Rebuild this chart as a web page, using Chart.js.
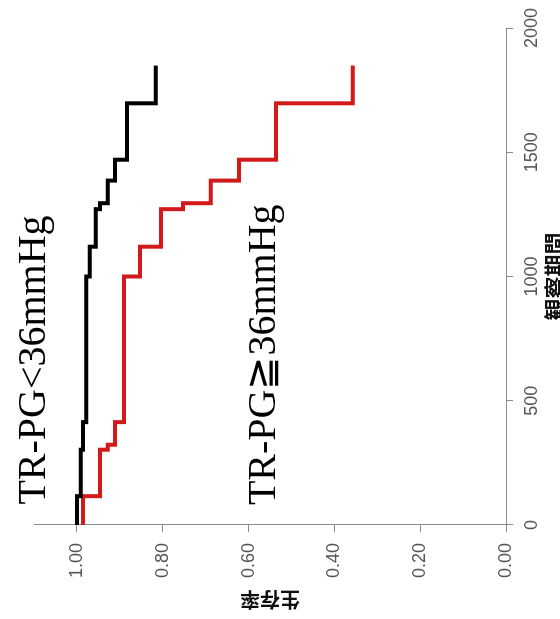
<!DOCTYPE html>
<html>
<head>
<meta charset="utf-8">
<script src="https://cdn.jsdelivr.net/npm/chart.js@4"></script>
<style>
    html, body { margin: 0; padding: 0; background: #fff; overflow: hidden; }
    body { width: 560px; height: 619px; position: relative; }
    /* chart is drawn upright, then turned a quarter turn counter-clockwise like the scan */
    #wrap {
        position: absolute; left: 0; top: 0;
        width: 619px; height: 560px;
        transform-origin: 0 0;
        transform: translate(0, 619px) rotate(-90deg);
    }
</style>
</head>
<body>
<div id="wrap"><canvas id="kmChart" width="619" height="560"></canvas></div>
<script>
// Kaplan-Meier steps (time in days, survival after each drop)
const lowTimes = [0, 116, 303, 414, 1000, 1120, 1271, 1295, 1386, 1470, 1697, 1849];
const lowSurv  = [1.00, 0.991, 0.986, 0.978, 0.970, 0.956, 0.946, 0.928, 0.911, 0.883, 0.816, 0.816];

const highTimes = [0, 116, 303, 323, 414, 1000, 1120, 1271, 1295, 1386, 1470, 1697, 1849];
const highSurv  = [0.986, 0.946, 0.928, 0.911, 0.890, 0.853, 0.804, 0.753, 0.688, 0.622, 0.536, 0.357, 0.357];

// axis ticks
const timeTicks = [0, 500, 1000, 1500, 2000];
const survTicks = [0, 0.2, 0.4, 0.6, 0.8, 1.0];

// group labels placed in data space (start time, baseline survival)
const groupNames = ['TR-PG<36mmHg', 'TR-PG\u226736mmHg'];
const groupLabelTime = [82, 80];
const groupLabelSurv = [1.075, 0.538];

function toPoints(times, surv) {
    return times.map((t, i) => ({ x: t, y: surv[i] }));
}

// Draw the two group names next to the curves
const groupLabels = {
    id: 'groupLabels',
    afterDatasetsDraw(chart) {
        const ctx = chart.ctx;
        const xs = chart.scales.x;
        const ys = chart.scales.y;
        ctx.save();
        ctx.fillStyle = '#000';
        ctx.font = '40px "Liberation Serif", "DejaVu Serif", serif';
        ctx.textAlign = 'left';
        ctx.textBaseline = 'alphabetic';
        groupNames.forEach((name, i) => {
            ctx.fillText(name, xs.getPixelForValue(groupLabelTime[i]), ys.getPixelForValue(groupLabelSurv[i]));
        });
        ctx.restore();
    }
};

const axisGray = '#8a8a8a';
const tickFont = { family: '"Liberation Sans", Arial, sans-serif', size: 18 };

new Chart(document.getElementById('kmChart'), {
    type: 'line',
    data: {
        datasets: [{
            label: 'TR-PG<36mmHg',
            data: toPoints(lowTimes, lowSurv),
            borderColor: '#000000',
            borderWidth: 4,
            stepped: true,
            pointRadius: 0,
            fill: false
        }, {
            label: 'TR-PG\u226736mmHg',
            data: toPoints(highTimes, highSurv),
            borderColor: '#d21a1a',
            borderWidth: 4,
            stepped: true,
            pointRadius: 0,
            fill: false
        }]
    },
    options: {
        responsive: false,
        animation: false,
        devicePixelRatio: 1,
        layout: { padding: { top: 34, right: 24, left: 0, bottom: 0 } },
        plugins: {
            legend: { display: false },
            tooltip: { enabled: false }
        },
        scales: {
            x: {
                type: 'linear',
                min: timeTicks[0],
                max: timeTicks[timeTicks.length - 1],
                afterBuildTicks: scale => { scale.ticks = timeTicks.map(v => ({ value: v })); },
                afterFit: scale => { scale.height = 54; },
                ticks: {
                    autoSkip: false,
                    maxRotation: 0,
                    padding: 8,
                    color: '#555',
                    font: tickFont,
                    callback: value => String(value)
                },
                grid: { display: true, drawOnChartArea: false, tickLength: 7, color: axisGray },
                border: { display: true, color: axisGray, width: 1 },
                title: {
                    display: true,
                    text: '観察期間',
                    color: '#111',
                    font: { family: '"Noto Sans CJK JP", sans-serif', size: 22, weight: 'bold', lineHeight: 1 },
                    padding: { top: 0, bottom: -6 }
                }
            },
            y: {
                type: 'linear',
                min: 0,
                max: 1.1,
                afterBuildTicks: scale => { scale.ticks = survTicks.map(v => ({ value: v })); },
                afterFit: scale => { scale.width = 94; },
                ticks: {
                    padding: 11,
                    color: '#555',
                    font: tickFont,
                    callback: value => value.toFixed(2)
                },
                grid: { display: true, drawOnChartArea: false, tickLength: 7, color: axisGray },
                border: { display: true, color: axisGray, width: 1 },
                title: {
                    display: true,
                    text: '生存率',
                    color: '#111',
                    font: { family: '"Noto Sans CJK JP", sans-serif', size: 20, weight: 'bold', lineHeight: 1.2 },
                    padding: { top: 7, bottom: 0 }
                }
            }
        }
    },
    plugins: [groupLabels]
});
</script>
</body>
</html>
